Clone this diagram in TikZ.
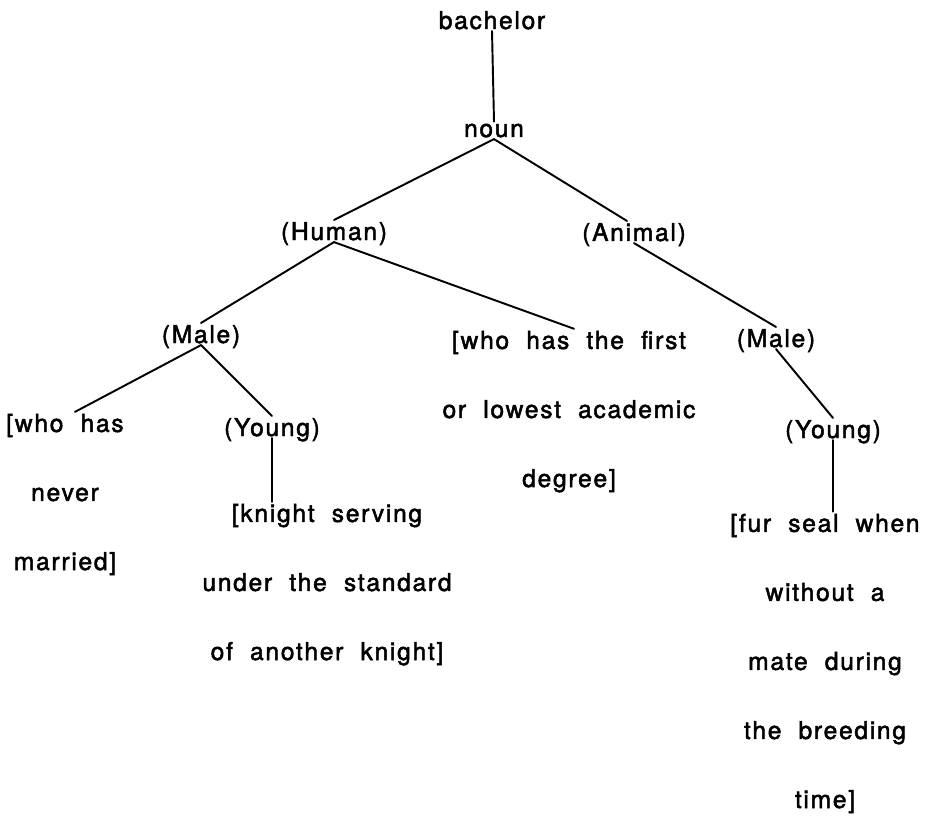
\documentclass[tikz,border=0pt]{standalone}
\usepackage{fontspec}
\setmainfont{TeX Gyre Heros}[LetterSpace=7,WordSpace=2,FakeBold=2]
\usetikzlibrary{calc}
\tikzset{
  lab/.style={font=\fontsize{14pt}{39.3pt}\selectfont, inner sep=1pt, anchor=base},
  sense/.style={lab, text depth=0pt},
  gloss/.style={lab, align=center},
  tie/.style={draw=black, line width=1.1pt, line cap=round},
}

\begin{document}
\begin{tikzpicture}[x=0.02cm,y=-0.02cm]
  \useasboundingbox (0,0) rectangle (935,827);
  % sense labels
  \foreach \N/\X/\Y/\T in {bachelor/492/29/bachelor, noun/494/137/noun,
      human/334/240/(Human), animal/634/241/(Animal),
      maleL/201/343/(Male), maleR/776/347/(Male),
      youngL/272/436/(Young), youngR/833/438/(Young)}
    \node[sense] (\N) at (\X,\Y) {\T};
  % glosses (placed by the baseline of their last line)
  \node[gloss] (unwed) at (65,570) {[who has\\never\\married]};
  \node[gloss] (degree) at (569,487) {[who has the first\\or lowest academic\\degree]};
  \node[gloss] (knight) at (327,660) {[knight serving\\under the standard\\of another knight]};
  \node[gloss] (seal) at (825,808) {[fur seal when\\without a\\mate during\\the breeding\\time]};
  % tree
  \draw[tie] (bachelor.south) -- (noun.north);
  \draw[tie] (noun.south) -- (human.north);
  \draw[tie] (noun.south) -- ([xshift=-0.14cm]animal.north);
  \draw[tie] (human.south) -- (maleL.north);
  \draw[tie] (human.south) -- ([xshift=0.1cm]degree.north);
  \draw[tie] (maleL.south) -- ([xshift=0.2cm]unwed.north);
  \draw[tie] (maleL.south) -- (youngL.north);
  \draw[tie] (youngL.south) -- (youngL.south |- knight.north);
  \draw[tie] (animal.south) -- (maleR.north);
  \draw[tie] (maleR.south) -- (youngR.north);
  \draw[tie] (youngR.south) -- (youngR.south |- seal.north);
\end{tikzpicture}
\end{document}
